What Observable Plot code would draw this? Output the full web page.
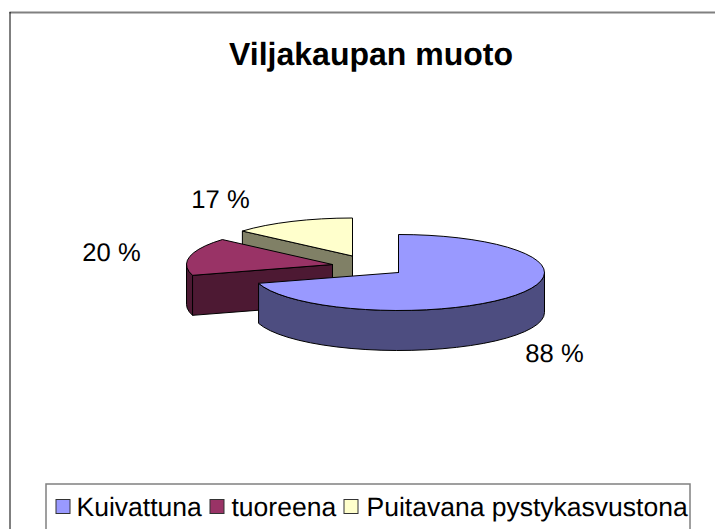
<!DOCTYPE html>
<html><head><meta charset="utf-8">
<style>html,body{margin:0;padding:0;background:#fff}svg{display:block}svg text{text-rendering:geometricPrecision}</style>
<script src="https://cdn.jsdelivr.net/npm/d3@7"></script>
<script src="https://cdn.jsdelivr.net/npm/@observablehq/plot@0.6"></script>
</head><body><script>
const categories = ["Kuivattuna", "tuoreena", "Puitavana pystykasvustona"];
const values = [88, 20, 17];
const topColors = ["#9999FF", "#993366", "#FFFFCC"];
const sideColors = ["#4D4D80", "#4D1933", "#808066"];
const centersX = [398, 332, 352];
const centersY = [272, 264, 255.5];
const labelX = [554, 111, 220];
const labelY = [361, 260, 207];
const legendSwatchX = [56, 210, 344];
const legendTextX = [76, 231, 366];
const rx = 146, ry = 38, depth = 40, step = 6;

const total = d3.sum(values);
let acc = 0;
const slices = values.map((v, i) => {
  const a0 = acc; acc += v / total * 360;
  return {i, a0, a1: acc, cx: centersX[i], cy: centersY[i]};
});
const pt = (s, a, dz = 0) => {
  const r = a * Math.PI / 180;
  return {x: s.cx + rx * Math.sin(r), y: s.cy - ry * Math.cos(r) + dz};
};
const arc = (s, a0, a1, dz = 0) => {
  const out = [];
  const n = Math.max(1, Math.round((a1 - a0) / step));
  for (let k = 0; k <= n; k++) out.push(pt(s, a0 + (a1 - a0) * k / n, dz));
  return out;
};
const topFace = s => [{x: s.cx, y: s.cy}, ...arc(s, s.a0, s.a1), {x: s.cx, y: s.cy}];
const rim = (s, a0, a1) => [...arc(s, a0, a1), ...arc(s, a0, a1, depth).reverse(), pt(s, a0)];
const cut = (s, a) => {
  const e = pt(s, a);
  return [{x: s.cx, y: s.cy}, e, {x: e.x, y: e.y + depth}, {x: s.cx, y: s.cy + depth}, {x: s.cx, y: s.cy}];
};
const face = (pts, fill) => Plot.line(pts, {x: "x", y: "y", fill, stroke: "#000", strokeWidth: 1, strokeLinejoin: "round", curve: "linear"});

const [blue, red, yellow] = slices;
const font = "Liberation Sans, Arial, sans-serif";

const plot = Plot.plot({
  width: 715, height: 529, margin: 0,
  x: {domain: [0, 715], range: [0, 715], axis: null},
  y: {domain: [0, 529], range: [0, 529], axis: null},
  marks: [
    // frame
    Plot.ruleY([12], {x1: 9.5, x2: 715, stroke: "#808080", strokeWidth: 2}),
    Plot.ruleX([9.5], {y1: 12, y2: 529, stroke: "#000", strokeWidth: 1}),
    // yellow slice
    face(cut(yellow, yellow.a0), sideColors[2]),
    face(topFace(yellow), topColors[2]),
    // red slice
    face(rim(red, red.a0, 270), sideColors[1]),
    face(cut(red, red.a0), sideColors[1]),
    face(topFace(red), topColors[1]),
    // blue slice
    face(rim(blue, 90, blue.a1), sideColors[0]),
    face(topFace(blue), topColors[0]),
    // title and data labels
    Plot.text(["Viljakaupan muoto"], {x: () => 370.5, y: () => 64, fontSize: 32, fontWeight: "bold", fontFamily: font, fill: "#000", lineAnchor: "bottom"}),
    Plot.text(values, {x: (d, i) => labelX[i], y: (d, i) => labelY[i], text: d => `${d} %`, fontSize: 25.6, fontFamily: font, fill: "#000", lineAnchor: "bottom"}),
    // legend
    Plot.rect([0], {x1: () => 46, x2: () => 690, y1: () => 484, y2: () => 540, fill: "none", stroke: "#808080", strokeWidth: 1.5}),
    Plot.rect(categories, {x1: (d, i) => legendSwatchX[i], x2: (d, i) => legendSwatchX[i] + 14, y1: () => 499.5, y2: () => 513.5, fill: (d, i) => topColors[i], stroke: "#333", strokeWidth: 1}),
    Plot.text(categories, {x: (d, i) => legendTextX[i], y: () => 515, textAnchor: "start", fontSize: 26.5, fontFamily: font, fill: "#000", lineAnchor: "bottom"})
  ]
});
document.body.append(plot);
</script></body></html>
